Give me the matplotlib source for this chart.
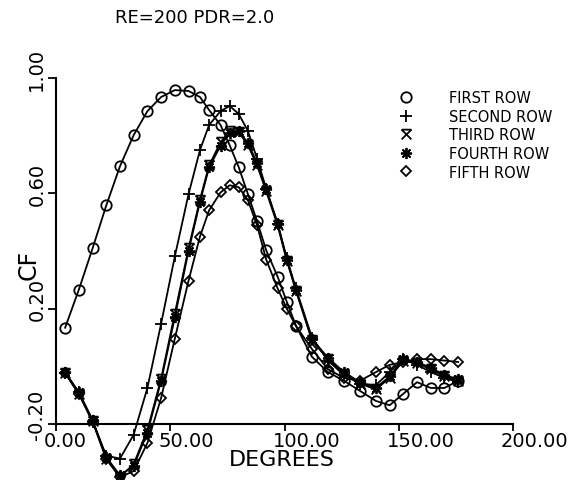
import matplotlib
matplotlib.use('Agg')
import matplotlib.pyplot as plt
import matplotlib.transforms as mtransforms
from matplotlib.path import Path
from matplotlib.lines import Line2D

# angle positions (degrees) shared by all rows
degrees = [4, 10, 16, 22, 28, 34, 40, 46, 52, 58, 63, 67, 72, 76, 80, 84,
           88, 92, 97, 101, 105, 112, 119, 126, 133, 140, 146, 152, 158, 164, 170, 176]

first_row = [0.134, 0.266, 0.409, 0.558, 0.694, 0.802, 0.885, 0.934, 0.958, 0.955,
             0.934, 0.889, 0.837, 0.767, 0.690, 0.597, 0.503, 0.402, 0.311, 0.224,
             0.141, 0.033, -0.02, -0.05, -0.085, -0.12, -0.135, -0.095, -0.055,
             -0.075, -0.075, -0.05]
second_row = [-0.023, -0.09, -0.193, -0.31, -0.32, -0.237, -0.075, 0.148, 0.381, 0.597,
              0.75, 0.837, 0.885, 0.903, 0.875, 0.816, 0.72, 0.615, 0.495, 0.375,
              0.27, 0.10, 0.02, -0.03, -0.06, -0.065, -0.02, 0.025, 0.005,
              -0.02, -0.04, -0.055]
third_row = [-0.023, -0.096, -0.19, -0.322, -0.384, -0.339, -0.221, -0.043, 0.183, 0.409,
             0.578, 0.697, 0.777, 0.815, 0.812, 0.767, 0.697, 0.607, 0.489, 0.367,
             0.263, 0.09, 0.025, -0.025, -0.06, -0.08, -0.04, 0.02, 0.01,
             -0.01, -0.035, -0.05]
fourth_row = [-0.02, -0.09, -0.185, -0.315, -0.378, -0.345, -0.23, -0.05, 0.17, 0.40,
              0.57, 0.69, 0.765, 0.81, 0.815, 0.775, 0.705, 0.615, 0.495, 0.37,
              0.265, 0.095, 0.03, -0.02, -0.055, -0.075, -0.035, 0.025, 0.015,
              -0.005, -0.03, -0.045]
fifth_row = [-0.023, -0.096, -0.19, -0.32, -0.385, -0.363, -0.266, -0.11, 0.096, 0.297,
             0.45, 0.541, 0.603, 0.628, 0.621, 0.576, 0.489, 0.37, 0.27, 0.20,
             0.14, 0.06, -0.01, -0.04, -0.05, -0.02, 0.005, 0.015, 0.025,
             0.025, 0.02, 0.015]

labels = ['FIRST ROW', 'SECOND ROW', 'THIRD ROW', 'FOURTH ROW', 'FIFTH ROW']
x_ticks = [0, 50, 100, 150, 200]
y_ticks = [-0.2, 0.2, 0.6, 1.0]

# X with a bar on top (plotter symbol)
xbar = Path([(-1, 1), (1, 1), (-1, 1), (1, -1), (1, 1), (-1, -1)],
            [Path.MOVETO, Path.LINETO, Path.MOVETO, Path.LINETO, Path.MOVETO, Path.LINETO])
markers = ['o', '+', xbar, (8, 2, 0), 'D']
msizes = [7.5, 9, 7, 8, 5.5]
rows = [first_row, second_row, third_row, fourth_row, fifth_row]

fig = plt.figure(figsize=(5.74, 4.81), dpi=100)
ax = fig.add_axes([56 / 574, 1 - 425 / 481, 457 / 574, 346 / 481])

for vals, m, ms in zip(rows, markers, msizes):
    ax.plot(degrees, vals, color='black', lw=1.3, marker=m, ms=ms,
            mfc='none', mec='black', mew=1.3, clip_on=False)

ax.set_xlim(0, 200)
ax.set_ylim(-0.2, 1.0)
ax.spines['top'].set_visible(False)
ax.spines['right'].set_visible(False)
ax.spines['left'].set_linewidth(1.5)
ax.spines['bottom'].set_linewidth(1.5)

ax.set_xticks(x_ticks)
ax.set_xticklabels([f'{v:.2f}' for v in x_ticks], fontsize=14)
ax.set_yticks(y_ticks)
ax.set_yticklabels([f'{v:.2f}' for v in y_ticks], fontsize=14, rotation=90, va='center')
ax.tick_params(axis='x', direction='out', length=5, width=1.3, pad=0)
ax.tick_params(axis='y', direction='out', length=6, width=1.3, pad=1)

# move tick labels like the old plotter did
dx = mtransforms.ScaledTranslation(-0.12, 0, fig.dpi_scale_trans)
for lab in ax.get_xticklabels():
    lab.set_ha('left')
    lab.set_transform(lab.get_transform() + dx)
dy = mtransforms.ScaledTranslation(0, 0.10, fig.dpi_scale_trans)
for lab in ax.get_yticklabels():
    lab.set_transform(lab.get_transform() + dy)

fig.text(195 / 574, 1 - 18 / 481, 'RE=200 PDR=2.0', fontsize=13, ha='center', va='center')
fig.text(282 / 574, 1 - 460 / 481, 'DEGREES', fontsize=16, ha='center', va='center')
fig.text(29 / 574, 1 - 265 / 481, 'CF', fontsize=17, ha='center', va='center', rotation=90)

handles = [Line2D([], [], ls='none', marker=m, ms=ms, mfc='none', mec='black', mew=1.3)
           for m, ms in zip(markers, msizes)]
ax.legend(handles, labels, loc='upper left', bbox_to_anchor=(399 / 574, 1 - 91 / 481),
          bbox_transform=fig.transFigure, frameon=False, fontsize=10.5,
          handlelength=1.0, handletextpad=2.4, labelspacing=0.25, borderpad=0,
          borderaxespad=0)

fig.savefig('out.png', dpi=100)
